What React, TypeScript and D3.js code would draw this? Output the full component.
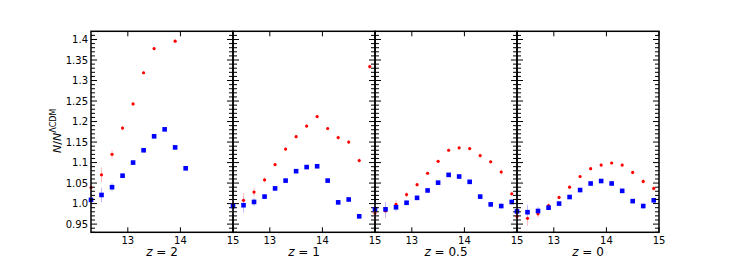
import React from "react";
import * as d3 from "d3";

const massBins = [12.3, 12.5, 12.7, 12.9, 13.1, 13.3, 13.5, 13.7, 13.9, 14.1, 14.3, 14.5, 14.7, 14.9];
const binErrors = [0.02, 0.018, 0.01, 0.006, 0.004, 0.004, 0.004, 0.004, 0.004, 0.004, 0.005, 0.005, 0.006, 0.006];

const panelTitles = ["2", "1", "0.5", "0"];

const redZ2 = [1.039, 1.070, 1.120, 1.184, 1.243, 1.319, 1.378, null, 1.396, null, null, null, null, null];
const blueZ2 = [1.009, 1.021, 1.040, 1.068, 1.100, 1.130, 1.164, 1.181, 1.137, 1.086, null, null, null, null];
const redZ1 = [0.998, 1.008, 1.028, 1.058, 1.095, 1.133, 1.163, 1.189, 1.212, 1.183, 1.161, 1.150, 1.105, 1.334];
const blueZ1 = [0.994, 0.996, 1.004, 1.017, 1.037, 1.056, 1.079, 1.089, 1.091, 1.056, 1.003, 1.010, 0.969, null];
const redZ05 = [0.977, 0.982, 0.998, 1.022, 1.046, 1.074, 1.103, 1.130, 1.136, 1.134, 1.117, 1.102, 1.077, 1.024];
const blueZ05 = [0.986, 0.986, 0.991, 1.002, 1.014, 1.032, 1.051, 1.070, 1.066, 1.053, 1.017, 0.998, 0.994, 1.004];
const redZ0 = [0.969, 0.964, 0.975, 0.995, 1.015, 1.040, 1.066, 1.085, 1.094, 1.099, 1.094, 1.076, 1.054, 1.037];
const blueZ0 = [0.981, 0.979, 0.982, 0.990, 1.000, 1.016, 1.033, 1.049, 1.055, 1.049, 1.031, 1.006, 0.994, 1.008];

const redSeries = [redZ2, redZ1, redZ05, redZ0];
const blueSeries = [blueZ2, blueZ1, blueZ05, blueZ0];

const xTicks = [13, 14, 15];
const yMajorTicks = [0.95, 1.0, 1.05, 1.1, 1.15, 1.2, 1.25, 1.3, 1.35, 1.4];
const yTickLabels = ["0.95", "1.0", "1.05", "1.1", "1.15", "1.2", "1.25", "1.3", "1.35", "1.4"];

const W = 733;
const H = 262;
const left0 = 91;
const panelW = 142;
const top = 31.3;
const bottom = 232.3;
const font = "DejaVu Sans, sans-serif";

export default function App() {
  const y = d3.scaleLinear().domain([0.93, 1.42]).range([bottom, top]);
  const yMinor = d3.range(93, 142).map((v) => v / 100).filter((v) => Math.round(v * 100) % 5 !== 0);

  const panels = panelTitles.map((t, i) => {
    const x0 = left0 + i * panelW;
    const x = d3.scaleLinear().domain([12.3, 15]).range([x0, x0 + panelW]);
    const reds = redSeries[i];
    const blues = blueSeries[i];
    return (
      <g key={i}>
        {reds.map((v, j) =>
          v == null ? null : (
            <line key={"re" + j} x1={x(massBins[j])} x2={x(massBins[j])} y1={y(v - binErrors[j])} y2={y(v + binErrors[j])} stroke="#ffbbbb" strokeWidth={1} />
          )
        )}
        {blues.map((v, j) =>
          v == null ? null : (
            <line key={"be" + j} x1={x(massBins[j])} x2={x(massBins[j])} y1={y(v - binErrors[j])} y2={y(v + binErrors[j])} stroke="#bbbbff" strokeWidth={1} />
          )
        )}
        {reds.map((v, j) =>
          v == null ? null : <circle key={"r" + j} cx={x(massBins[j])} cy={y(v)} r={1.6} fill="#ff0000" />
        )}
        {blues.map((v, j) =>
          v == null ? null : (
            <rect key={"b" + j} x={x(massBins[j]) - 2.3} y={y(v) - 2.3} width={4.6} height={4.6} fill="#0000ff" />
          )
        )}
        <rect x={x0} y={top} width={panelW} height={bottom - top} fill="none" stroke="#000" strokeWidth={1.5} />
        {yMajorTicks.map((v, j) => (
          <g key={"ym" + j}>
            <line x1={x0} x2={x0 + 6} y1={y(v)} y2={y(v)} stroke="#000" strokeWidth={1} />
            <line x1={x0 + panelW} x2={x0 + panelW - 6} y1={y(v)} y2={y(v)} stroke="#000" strokeWidth={1} />
          </g>
        ))}
        {yMinor.map((v, j) => (
          <g key={"yn" + j}>
            <line x1={x0} x2={x0 + 4} y1={y(v)} y2={y(v)} stroke="#000" strokeWidth={1} />
            <line x1={x0 + panelW} x2={x0 + panelW - 4} y1={y(v)} y2={y(v)} stroke="#000" strokeWidth={1} />
          </g>
        ))}
        {xTicks.map((v, j) => (
          <g key={"xt" + j}>
            <line x1={x(v)} x2={x(v)} y1={bottom} y2={bottom - 5} stroke="#000" strokeWidth={1} />
            <line x1={x(v)} x2={x(v)} y1={top} y2={top + 5} stroke="#000" strokeWidth={1} />
            <text x={x(v)} y={243.5} textAnchor="middle" fontFamily={font} fontSize={10}>
              {v}
            </text>
          </g>
        ))}
        <text x={x0 + panelW / 2} y={256} textAnchor="middle" fontFamily={font} fontSize={12}>
          <tspan fontStyle="italic">z</tspan>
          <tspan> = {t}</tspan>
        </text>
      </g>
    );
  });

  return (
    <svg width={W} height={H} style={{ position: "absolute", left: 0, top: 0, background: "#fff" }}>
      <rect width={W} height={H} fill="#fff" />
      {panels}
      {yMajorTicks.map((v, j) => (
        <text key={"yl" + j} x={88} y={y(v) + 3.6} textAnchor="end" fontFamily={font} fontSize={10}>
          {yTickLabels[j]}
        </text>
      ))}
      <text transform="translate(60.5,153) rotate(-90)" fontFamily={font} fontSize={11}>
        <tspan fontStyle="italic">N</tspan>
        <tspan>/</tspan>
        <tspan fontStyle="italic">N</tspan>
        <tspan fontSize={8} dy={-4.5}>ΛCDM</tspan>
      </text>
    </svg>
  );
}
